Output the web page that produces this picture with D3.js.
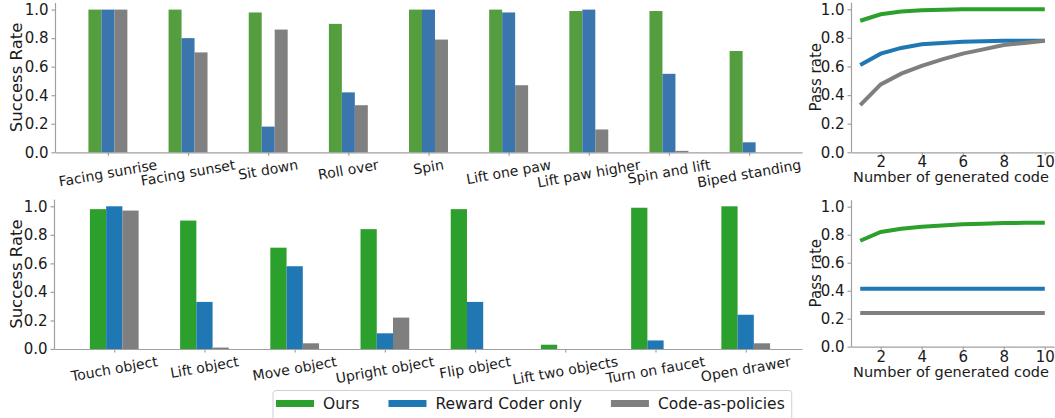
<!DOCTYPE html>
<meta charset="utf-8">

<script src="https://d3js.org/d3.v7.min.js"></script>

<style type="text/css">

body { margin: 0; background: #fff; }
svg { font-family: "DejaVu Sans", sans-serif; }
.axis path, .axis line { stroke: #a0a0a0; stroke-width: 1.2; }
.axis text { fill: #1a1a1a; font-size: 15px; font-family: "DejaVu Sans", sans-serif; }
.label { fill: #1a1a1a; }

</style>

<body>
</body>

<script>

// ---- data ----

var topTasks = ["Facing sunrise", "Facing sunset", "Sit down", "Roll over", "Spin",
  "Lift one paw", "Lift paw higher", "Spin and lift", "Biped standing"];
var topOurs = [1.0, 1.0, 0.98, 0.90, 1.0, 1.0, 0.99, 0.99, 0.71];
var topRewardCoder = [1.0, 0.80, 0.18, 0.42, 1.0, 0.98, 1.0, 0.55, 0.07];
var topCodeAsPolicies = [1.0, 0.70, 0.86, 0.33, 0.79, 0.47, 0.16, 0.01, 0.0];

var bottomTasks = ["Touch object", "Lift object", "Move object", "Upright object",
  "Flip object", "Lift two objects", "Turn on faucet", "Open drawer"];
var bottomOurs = [0.98, 0.90, 0.71, 0.84, 0.98, 0.03, 0.99, 1.0];
var bottomRewardCoder = [1.0, 0.33, 0.58, 0.11, 0.33, 0.0, 0.06, 0.24];
var bottomCodeAsPolicies = [0.97, 0.01, 0.04, 0.22, 0.0, 0.0, 0.0, 0.04];

var numCode = [1, 2, 3, 4, 5, 6, 7, 8, 9, 10];
var topPassOurs = [0.92, 0.965, 0.985, 0.993, 0.997, 1.0, 1.0, 1.0, 1.0, 1.0];
var topPassReward = [0.61, 0.69, 0.73, 0.755, 0.765, 0.773, 0.777, 0.78, 0.78, 0.78];
var topPassCap = [0.33, 0.475, 0.55, 0.605, 0.65, 0.69, 0.72, 0.75, 0.765, 0.78];
var bottomPassOurs = [0.757, 0.82, 0.843, 0.857, 0.866, 0.874, 0.879, 0.883, 0.885, 0.886];
var bottomPassReward = [0.414, 0.414, 0.414, 0.414, 0.414, 0.414, 0.414, 0.414, 0.414, 0.414];
var bottomPassCap = [0.24, 0.24, 0.24, 0.24, 0.24, 0.24, 0.24, 0.24, 0.24, 0.24];

var seriesNames = ["Ours", "Reward Coder only", "Code-as-policies"];
var yTicks = [0, 0.2, 0.4, 0.6, 0.8, 1.0];
var xTicksLine = [2, 4, 6, 8, 10];

var colors = ["#2ca02c", "#1f77b4", "#7f7f7f"];
var colorsTop = ["#549e3f", "#3a75ae", "#808080"];

// ---- svg ----

var svg = d3.select("body").append("svg")
  .attr("width", 1055)
  .attr("height", 418);

var fmt = d3.format(".1f");
var rad = 10 * Math.PI / 180;

// bar panel: grouped bars with rotated category labels
function barPanel(tasks, series, cols, box) {
  var g = svg.append("g");

  var x = d3.scaleLinear()
    .domain([box.lo, box.hi])
    .range([box.x0, box.x1]);

  var y = d3.scaleLinear()
    .domain([0, 1.05])
    .range([box.y0, box.y0 - 1.05 * box.unit]);

  var bw = x(box.bar) - x(0);

  g.append("g")
    .attr("class", "y axis")
    .attr("transform", "translate(" + box.x0 + ",0)")
    .call(d3.axisLeft(y).tickValues(yTicks).tickFormat(fmt).tickSize(3.5).tickPadding(3).tickSizeOuter(0));

  g.append("g")
    .attr("class", "x axis")
    .attr("transform", "translate(0," + box.y0 + ")")
    .call(d3.axisBottom(x).tickValues(d3.range(tasks.length)).tickFormat("").tickSize(3.5).tickSizeOuter(0));

  series.forEach(function(vals, s) {
    g.selectAll(".bar" + s)
      .data(vals)
      .enter().append("rect")
      .attr("x", function(d, i) { return x(i) + (s - 1.5) * bw; })
      .attr("y", function(d) { return y(d); })
      .attr("width", bw)
      .attr("height", function(d) { return box.y0 - y(d); })
      .style("fill", cols[s]);
  });

  // category labels, rotated, top of rotated box just below the ticks
  g.selectAll(".cat")
    .data(tasks)
    .enter().append("text")
    .attr("class", "label")
    .style("font-size", "14px")
    .attr("text-anchor", "middle")
    .attr("dy", "0.35em")
    .text(function(d) { return d; })
    .attr("transform", function(d, i) {
      var w = this.getComputedTextLength();
      var cy = box.y0 + 4 + (w * Math.sin(rad) + 16.5 * Math.cos(rad)) / 2;
      return "translate(" + x(i) + "," + cy + ") rotate(-10)";
    });

  g.append("text")
    .attr("class", "label")
    .style("font-size", "16.5px")
    .attr("text-anchor", "middle")
    .attr("dy", "0.35em")
    .attr("transform", "translate(16," + (box.y0 - 0.525 * box.unit) + ") rotate(-90)")
    .text("Success Rate");
}

// line panel: pass rate vs number of generated code
function linePanel(series, box) {
  var g = svg.append("g");

  var x = d3.scaleLinear()
    .domain([0.55, 10.45])
    .range([851, 1054]);

  var y = d3.scaleLinear()
    .domain([0, 1.05])
    .range([box.y0, box.y0 - 1.05 * box.unit]);

  g.append("g")
    .attr("class", "y axis")
    .attr("transform", "translate(851,0)")
    .call(d3.axisLeft(y).tickValues(yTicks).tickFormat(fmt).tickSize(3.5).tickPadding(3).tickSizeOuter(0));

  g.append("g")
    .attr("class", "x axis")
    .attr("transform", "translate(0," + box.y0 + ")")
    .call(d3.axisBottom(x).tickValues(xTicksLine).tickSize(3).tickPadding(1.5).tickSizeOuter(0));

  var line = d3.line()
    .x(function(d, i) { return x(numCode[i]); })
    .y(function(d) { return y(d); });

  series.forEach(function(vals, s) {
    g.append("path")
      .datum(vals)
      .attr("d", line)
      .style("fill", "none")
      .style("stroke", colors[s])
      .style("stroke-width", 4);
  });

  g.append("text")
    .attr("class", "label")
    .style("font-size", "15px")
    .attr("text-anchor", "middle")
    .attr("dy", "0.35em")
    .attr("transform", "translate(816," + (box.y0 - 0.525 * box.unit) + ") rotate(-90)")
    .text("Pass rate");

  g.append("text")
    .attr("class", "label")
    .style("font-size", "14.5px")
    .attr("text-anchor", "middle")
    .attr("dy", "0.35em")
    .attr("x", 951)
    .attr("y", box.y0 + box.xlab)
    .text("Number of generated code");
}

barPanel(topTasks, [topOurs, topRewardCoder, topCodeAsPolicies], colorsTop,
  {x0: 55, x1: 802, lo: -0.66, hi: 8.66, y0: 152.3, unit: 142.7, bar: 0.162});

barPanel(bottomTasks, [bottomOurs, bottomRewardCoder, bottomCodeAsPolicies], colors,
  {x0: 54, x1: 802, lo: -0.668, hi: 7.624, y0: 349, unit: 142.7, bar: 0.18});

linePanel([topPassOurs, topPassReward, topPassCap], {y0: 152.3, unit: 143, xlab: 25});
linePanel([bottomPassOurs, bottomPassReward, bottomPassCap], {y0: 346.7, unit: 140, xlab: 25});

// ---- legend ----

var legend = svg.append("g");

var legendBox = legend.append("rect")
  .attr("x", 273)
  .attr("y", 390.5)
  .attr("rx", 3)
  .attr("height", 34)
  .style("fill", "#fff")
  .style("stroke", "#d0d0d0")
  .style("stroke-width", 1);

var lx = 276;
seriesNames.forEach(function(name, s) {
  legend.append("rect")
    .attr("x", lx)
    .attr("y", 400)
    .attr("width", 38)
    .attr("height", 7)
    .style("fill", colors[s]);

  var t = legend.append("text")
    .attr("class", "label")
    .style("font-size", "15.5px")
    .attr("x", lx + 47)
    .attr("y", 403.5)
    .attr("dy", "0.35em")
    .text(name);

  lx = lx + 47 + t.node().getComputedTextLength() + 29;
});

legendBox.attr("width", lx - 29 + 7 - 273);

</script>
